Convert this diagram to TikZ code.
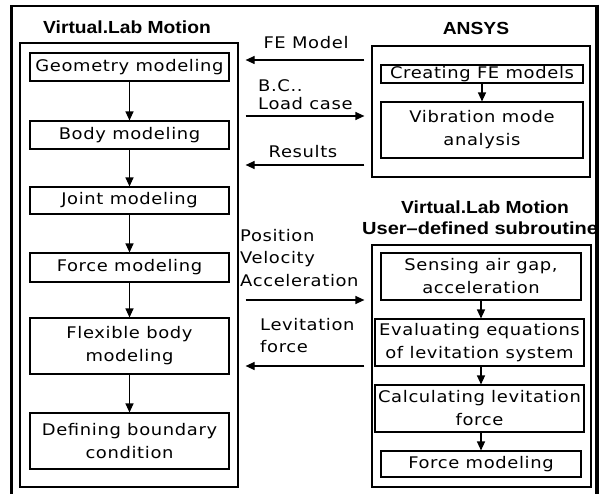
\documentclass[tikz,border=0pt]{standalone}
\usepackage{fontspec}
\usetikzlibrary{arrows.meta}
\newfontfamily\bodyfont[FakeStretch=1.12,LetterSpace=4]{DejaVu Sans}
\newfontfamily\headfont[FakeStretch=1.1]{Liberation Sans}
\begin{document}
\begin{tikzpicture}[x=1pt,y=-1pt,
  box/.style={draw, line width=1.1pt, inner sep=0pt, align=center,
    font=\bodyfont\fontsize{16}{23}\selectfont},
  grp/.style={draw, line width=1.2pt, inner sep=0pt},
  lbl/.style={inner sep=0pt, align=left, font=\bodyfont\fontsize{16}{23}\selectfont},
  ttl/.style={inner sep=0pt, font=\headfont\bfseries\fontsize{17.5}{21}\selectfont},
  arr/.style={line width=1.2pt, -{Triangle[length=9pt,width=8pt]}},
  gap/.style={shorten <=7pt, shorten >=7pt}
]
\useasboundingbox (0,0) rectangle (599,494);

% group boxes
\node[grp, minimum width=218, minimum height=444] (vlm) at (129,265) {};
\node[grp, minimum width=218, minimum height=131] (ansys) at (481,111.5) {};
\node[grp, minimum width=219, minimum height=242] (sub) at (481.5,366) {};

% titles
\node[ttl] (tvlm) at (127,27) {Virtual.Lab Motion};
\node[ttl] (tansys) at (476,28) {ANSYS};
\node[ttl] (tsub1) at (485,207) {Virtual.Lab Motion};
\node[ttl, anchor=west, xscale=1.04] (tsub2) at (362,228) {User\textendash defined subroutine};

% left column
\node[box, minimum width=199, minimum height=28] (geo) at (129.5,67) {Geometry modeling};
\node[box, minimum width=199, minimum height=28] (body) at (129.5,135) {Body modeling};
\node[box, minimum width=199, minimum height=27] (joint) at (129.5,200.5) {Joint modeling};
\node[box, minimum width=199, minimum height=29] (force) at (129.5,267.5) {Force modeling};
\node[box, minimum width=199, minimum height=56] (flex) at (129.5,346) {Flexible body\\modeling};
\node[box, minimum width=199, minimum height=56] (def) at (129.5,441) {Defining boundary\\condition};

\draw[arr] (geo) -- (body);
\draw[arr] (body) -- (joint);
\draw[arr] (joint) -- (force);
\draw[arr] (force) -- (flex);
\draw[arr] (flex) -- (def);

% ANSYS column
\node[box, minimum width=202, minimum height=18] (cfe) at (482,74) {Creating FE models};
\node[box, minimum width=202, minimum height=56] (vib) at (482,130) {Vibration mode\\analysis};
\draw[arr] (cfe) -- (vib);

% subroutine column
\node[box, minimum width=200, minimum height=47] (sense) at (481,276.5) {Sensing air gap,\\acceleration};
\node[box, minimum width=209, minimum height=47] (eval) at (479.5,342.5) {Evaluating equations\\of levitation system};
\node[box, minimum width=209, minimum height=47] (calc) at (479.5,408.5) {Calculating levitation\\force};
\node[box, minimum width=200, minimum height=26] (fm2) at (481,464) {Force modeling};
\draw[arr] (sense.south) -- (sense.south |- eval.north);
\draw[arr] (eval.south -| sense.south) -- (sense.south |- calc.north);
\draw[arr] (calc.south -| sense.south) -- (sense.south |- fm2.north);

% middle connectors
\draw[arr, gap] (ansys.west |- 0,60) -- (vlm.east |- 0,60);
\draw[arr, gap] (vlm.east |- 0,116) -- (ansys.west |- 0,116);
\draw[arr, gap] (ansys.west |- 0,165) -- (vlm.east |- 0,165);
\draw[arr, gap] (vlm.east |- 0,300) -- (sub.west |- 0,300);
\draw[arr, gap] (sub.west |- 0,366) -- (vlm.east |- 0,366);

\node[lbl] (lfe) at (306,43) {FE Model};
\node[lbl, anchor=west] (lbc) at (258,86) {B.C..};
\node[lbl, anchor=west] (llc) at (258,104) {Load case};
\node[lbl] (lres) at (303,152) {Results};
\node[lbl, anchor=west] (lpos) at (240,236) {Position};
\node[lbl, anchor=west] (lvel) at (240,259) {Velocity};
\node[lbl, anchor=west] (lacc) at (240,281) {Acceleration};
\node[lbl, anchor=west] (llev) at (260,325) {Levitation};
\node[lbl, anchor=west] (lfor) at (260,347) {force};

% outer frame (bottom edge lies outside the picture)
\draw[line width=2.5pt] (11.5,494) -- (11.5,6) -- (596,6);
\draw[line width=4pt] (597,4.75) -- (597,494);
\end{tikzpicture}
\end{document}
